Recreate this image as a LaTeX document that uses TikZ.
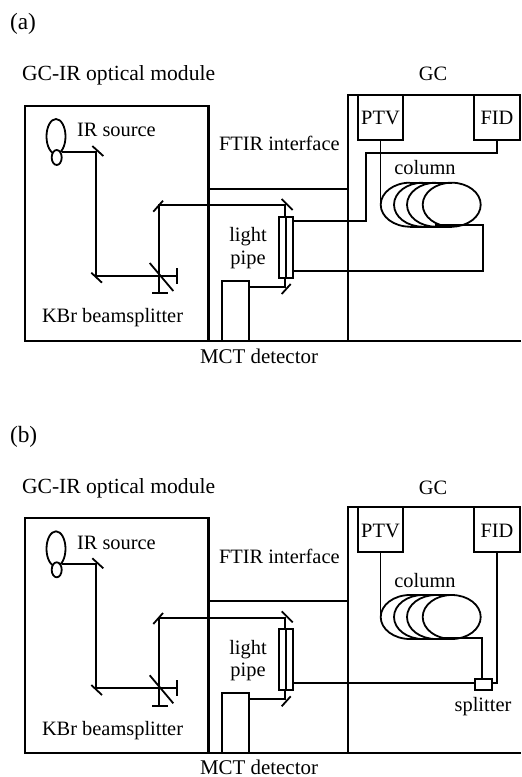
\documentclass[tikz,border=0pt]{standalone}
\usepackage{fontspec}
\usetikzlibrary{shapes.geometric}
\setmainfont{Liberation Serif}
\tikzset{
  x=0.75pt,y=-0.75pt,
  every node/.style={outer sep=0pt},
  ln/.style={line width=1.35pt,line join=miter},
  frame/.style={line width=1.6pt},
  lab/.style={anchor=base west,inner sep=0pt,font=\fontsize{15.3}{18}\selectfont},
  labc/.style={anchor=base,inner sep=0pt,font=\fontsize{15.3}{18}\selectfont},
  labbig/.style={anchor=base west,inner sep=0pt,font=\fontsize{16.2}{18}\selectfont},
  labpan/.style={anchor=base west,inner sep=0pt,font=\fontsize{17.5}{18}\selectfont},
  labmct/.style={anchor=base west,inner sep=0pt,font=\fontsize{15.7}{18}\selectfont},
  inbox/.style={draw,line width=1.4pt,inner sep=0pt,font=\fontsize{15.3}{18}\selectfont,text depth=0pt},
}
% common part of each panel; #1 is the name prefix
\newcommand{\commonpanel}[1]{%
  % frames
  \node[draw,frame,anchor=north west,inner sep=0pt,minimum width=183.5*0.75pt,minimum height=234.7*0.75pt] (#1box) at (25,106) {};
  \coordinate (#1gctl) at (348,95);
  \coordinate (#1gctr) at (521,95);
  \coordinate (#1gcbl) at (348,340.7);
  \coordinate (#1gcbr) at (521,340.7);
  \draw[frame] (#1gctr) -- (#1gctl) -- (#1gcbl);
  \draw[frame] (#1box.south east) -- (#1gcbr);
  \coordinate (#1iftop) at (#1box.east |- 0,188.7);
  \draw[frame] (#1iftop) -- (#1gctl |- #1iftop);
  % detector boxes
  \node[inbox,minimum width=45*0.75pt,minimum height=45*0.75pt,anchor=north west] (#1ptv) at (358,95) {\raisebox{-1pt}{PTV}};
  \node[inbox,minimum width=46*0.75pt,minimum height=45*0.75pt,anchor=north west] (#1fid) at (474,95) {\raisebox{-1pt}{FID}};
  % MCT detector
  \node[draw,frame,anchor=south west,inner sep=0pt,minimum width=26.7*0.75pt,minimum height=59.7*0.75pt] (#1mct) at (222.3,340.7) {};
  % IR source
  \node[draw,ln,ellipse,inner sep=0pt,minimum width=19*0.75pt,minimum height=35*0.75pt] (#1srcbig) at (56,136.5) {};
  \node[draw,ln,ellipse,fill=white,inner sep=0pt,minimum width=10*0.75pt,minimum height=15*0.75pt] (#1srcsmall) at (56.7,157.5) {};
  % optical path
  \coordinate (#1m1) at (95.7,151.7);
  \coordinate (#1m2) at (95.7,276);
  \coordinate (#1bs) at (159,276);
  \coordinate (#1end1) at (177,276);
  \coordinate (#1end2) at (159,293.3);
  \coordinate (#1m3) at (159,205.3);
  \coordinate (#1m4) at (285,205.3);
  \coordinate (#1m5) at (285,287);
  \coordinate (#1mctin) at (#1mct.east |- #1m5);
  \draw[ln] (61.5,151.7) -- (#1m1) -- (#1m2) -- (#1end1);
  \draw[ln] (#1end2) -- (#1m3) -- (#1m4) -- (#1m5) -- (#1mctin);
  % mirrors
  \draw[ln] (92.3,146) -- (103.3,156);
  \draw[ln] (91.3,272.7) -- (102,282.7);
  \draw[ln] (149.7,263) -- (173.3,291);
  \draw[ln] (177,268) -- (177,284);
  \draw[ln] (152,293.3) -- (168,293.3);
  \draw[ln] (153.3,211.7) -- (163,200.7);
  \draw[ln] (281.7,199) -- (292.7,210);
  \draw[ln] (281.7,294) -- (290.7,284);
  % column coils
  \foreach \cx/\lft in {436/407,423/394,410/380.7}{
    \draw[ln] (\cx,182.7) arc[start angle=270,end angle=90,x radius=\cx-\lft,y radius=22];
  }
  \draw[ln] (410,182.7) -- (452,182.7);
  \draw[ln] (410,226.7) -- (452,226.7);
  \node[draw,ln,ellipse,inner sep=0pt,minimum width=58*0.75pt,minimum height=44*0.75pt] (#1coil) at (451.7,204.7) {};
  % PTV to column
  \coordinate (#1coilin) at (#1ptv.south |- 0,204.7);
  \draw[ln] (#1ptv.south) -- (#1coilin);
  % labels
  \node[lab] (#1lsrc) at (77,136.7) {IR source};
  \node[lab] (#1lkbr) at (42,322.7) {KBr beamsplitter};
  \node[lab] (#1lftir) at (219,150.7) {FTIR interface};
  \node[labc] (#1lcol) at (425,175) {column};
  \node[labc] (#1llight) at (248,241.7) {light};
  \node[labc] (#1lpipe) at (248,264) {pipe};
}
\begin{document}
\begin{tikzpicture}
\useasboundingbox (0,0) rectangle (521,777);
\fill[white] (0,0) rectangle (521,777);
% ---------- panel (a)
\node[labpan] (la) at (10,30) {(a)};
\node[labbig] (lga) at (22,81) {GC-IR optical module};
\node[labc] (lgca) at (433,81) {GC};
\node[labmct] (lmcta) at (200,363) {MCT detector};
\commonpanel{a}
\node[draw,ln,fill=white,inner sep=0pt,anchor=north west,minimum width=14*0.75pt,minimum height=61*0.75pt] (apipe) at (279,216.7) {};
\draw[ln] (apipe.north) -- (apipe.south);
\coordinate (aj1) at (366,221);
\coordinate (aj2) at (366,152.7);
\draw[ln] (afid.south) |- (aj2) -- (aj1) -- (apipe.east |- aj1);
\coordinate (ac1) at (483,225);
\coordinate (ac2) at (483,270.7);
\draw[ln] (435,225) -- (ac1) -- (ac2) -- (apipe.east |- ac2);
% ---------- panel (b)
\node[labpan] (lb) at (10,442) {(b)};
\node[labbig] (lgb) at (22,493) {GC-IR optical module};
\node[labc] (lgcb) at (433,494) {GC};
\node[labmct] (lmctb) at (200,774) {MCT detector};
\node[labc] (lsp) at (483,711) {splitter};
\begin{scope}[yshift=-412.3*0.75pt]
\commonpanel{b}
\node[draw,ln,fill=white,inner sep=0pt,anchor=north west,minimum width=14*0.75pt,minimum height=61*0.75pt] (bpipe) at (279,216.7) {};
\draw[ln] (bpipe.north) -- (bpipe.south);
\node[draw,ln,inner sep=0pt,minimum width=16.7*0.75pt,minimum height=10.7*0.75pt,anchor=north west] (bsplit) at (475,267) {};
\coordinate (bf1) at (bfid.south |- 0,271);
\draw[ln] (bfid.south) -- (bf1) -- (bsplit.east |- bf1);
\draw[ln] (bpipe.east |- bf1) -- (bsplit.west |- bf1);
\coordinate (bc1) at (481.7,225.4);
\draw[ln] (440,225.4) -- (bc1) -- (bc1 |- bsplit.north);
\end{scope}
\end{tikzpicture}
\end{document}
